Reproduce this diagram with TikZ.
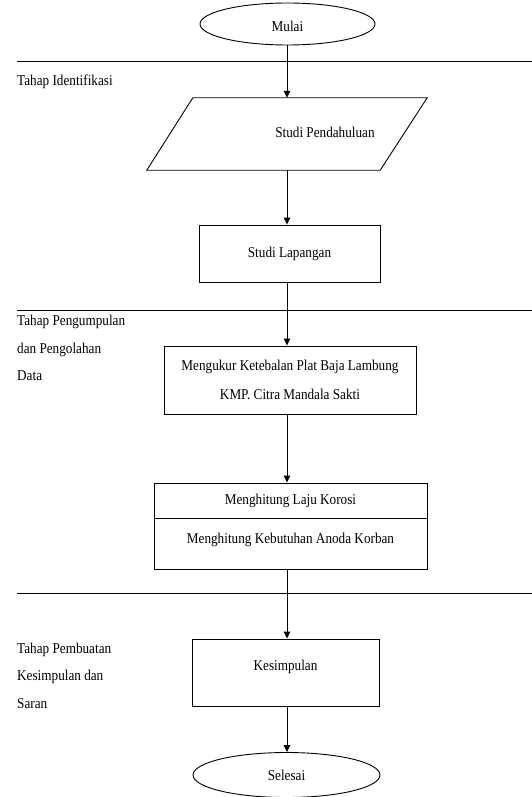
\documentclass[tikz,border=0pt]{standalone}
\usepackage{fontspec}
\setmainfont{Liberation Serif}[FakeStretch=0.88]
\usetikzlibrary{shapes.geometric,arrows.meta}
\begin{document}
\begin{tikzpicture}[x=1pt,y=-1pt,
  every node/.style={font=\fontsize{15}{18}\selectfont},
  rule/.style={line width=0.9pt},
  arr/.style={line width=0.9pt,-{Triangle[length=7pt,width=6.5pt]}},
  term/.style={draw,line width=0.9pt,ellipse,inner sep=0pt},
  proc/.style={draw,line width=0.9pt,rectangle,inner sep=0pt},
  stage/.style={anchor=north west,align=left,inner sep=0pt,font=\fontsize{15}{27.8}\selectfont},
]
\useasboundingbox (0,0) rectangle (532,797);
\coordinate (ax) at (287,0);

% phase rules
\coordinate (r1a) at (17,61);  \coordinate (r1b) at (532,61);
\coordinate (r2a) at (17,310); \coordinate (r2b) at (532,310);
\coordinate (r3a) at (17,593); \coordinate (r3b) at (532,593);
\draw[rule] (r1a) -- (r1b);
\draw[rule] (r2a) -- (r2b);
\draw[rule] (r3a) -- (r3b);

% stage labels
\node[stage] (s1) at (17,74.7) {Tahap Identifikasi};
\node[stage] (s2) at (17,314.7) {Tahap Pengumpulan\\dan Pengolahan\\Data};
\node[stage] (s3) at (17,642.5) {Tahap Pembuatan\\Kesimpulan dan\\Saran};

% flow nodes
\node[term, minimum width=175pt, minimum height=42pt] (mulai) at (287.5,24) {\raisebox{-7.9pt}[0pt][0pt]{Mulai}};
\node[minimum width=280pt, minimum height=72pt, inner sep=0pt] (sp) at (287,134) {};
\draw[rule] ([xshift=46pt]sp.north west) -- (sp.north east) -- ([xshift=-47pt]sp.south east) -- (sp.south west) -- cycle;
\node (spt) at (325,132) {Studi Pendahuluan};
\node[proc, minimum width=181pt, minimum height=57pt] (lap) at (289.5,253.5) {Studi Lapangan};
\node[proc, minimum width=252pt, minimum height=68pt, align=center,
      font=\fontsize{15}{29}\selectfont] (ukur) at (290,380) {Mengukur Ketebalan Plat Baja Lambung\\KMP. Citra Mandala Sakti};
\node[proc, minimum width=273pt, minimum height=86pt] (hit) at (290.5,526) {};
\node (h1) at (290.5,501) {Menghitung Laju Korosi};
\node (h2) at (290.5,540) {Menghitung Kebutuhan Anoda Korban};
\coordinate (dv) at (0,518);
\draw[rule] (hit.west |- dv) -- (hit.east |- dv);
\node[proc, minimum width=187pt, minimum height=67pt] (kes) at (285.5,672.5) {\raisebox{2pt}[0pt][0pt]{Kesimpulan}};
\node[term, minimum width=187pt, minimum height=45pt] (sel) at (286.5,775) {Selesai};

% connectors
\draw[arr] (mulai.south -| ax) -- (sp.north -| ax);
\draw[arr] (sp.south -| ax) -- (lap.north -| ax);
\draw[arr] (lap.south -| ax) -- (ukur.north -| ax);
\draw[arr] (ukur.south -| ax) -- (hit.north -| ax);
\draw[arr] (hit.south -| ax) -- (kes.north -| ax);
\draw[arr] (kes.south -| ax) -- (sel.north -| ax);
\end{tikzpicture}
\end{document}
